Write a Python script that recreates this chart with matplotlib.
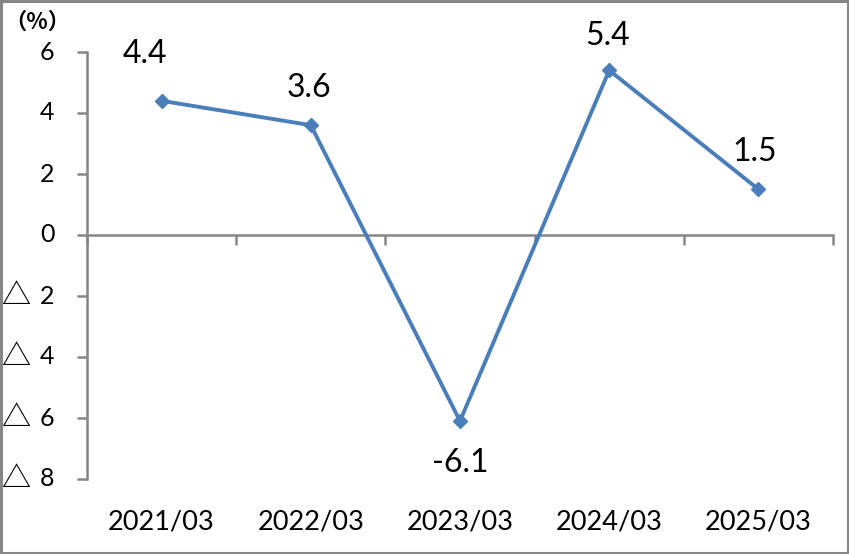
import matplotlib
matplotlib.use("Agg")
import matplotlib.pyplot as plt
from matplotlib.patches import Rectangle
from matplotlib.ticker import FixedLocator

categories = ["2021/03", "2022/03", "2023/03", "2024/03", "2025/03"]
values = [4.4, 3.6, -6.1, 5.4, 1.5]
yticks = [6, 4, 2, 0, -2, -4, -6, -8]
ytick_numbers = ["6", "4", "2", "0", "2", "4", "6", "8"]
ytick_marks = ["", "", "", "", "△", "△", "△", "△"]
label_offsets = [(-12, 34), (-1, 27), (0, -30), (-1, 25), (-3, 27)]

FONT = ["Lato", "Noto Sans CJK SC", "DejaVu Sans"]
plt.rcParams["font.family"] = FONT

W, H = 849, 554
fig = plt.figure(figsize=(W / 100, H / 100), dpi=100)
ax = fig.add_axes([87 / W, (H - 479) / H, (833 - 87) / W, (479 - 52) / H])

gray = "#868686"
blue = "#4A7EBB"
x = list(range(1, len(categories) + 1))
ax.plot(x, values, color=blue, lw=2.8, marker="D", ms=7.5, mfc=blue, mec=blue,
        zorder=5, clip_on=False)

for xi, v, (dx, dy) in zip(x, values, label_offsets):
    ax.annotate(f"{v:.1f}", (xi, v), xytext=(dx, dy), textcoords="offset points",
                ha="center", va="center", fontsize=23, color="black", zorder=6)

ax.set_xlim(0.5, len(categories) + 0.5)
ax.set_ylim(-8, 6)
ax.set_yticks(yticks)
ax.set_yticklabels([])
ax.tick_params(axis="y", direction="out", length=7, width=1.8, color=gray)

for yv, num, mark in zip(yticks, ytick_numbers, ytick_marks):
    ax.annotate(num, (0, yv), xycoords=("axes fraction", "data"), xytext=(-23.5, 0),
                textcoords="offset points", ha="right", va="center", fontsize=18)
    if mark:
        ax.annotate(mark, (0, yv), xycoords=("axes fraction", "data"), xytext=(-62, 0),
                    textcoords="offset points", ha="left", va="center", fontsize=21,
                    family=["Noto Sans CJK SC", "DejaVu Sans"])

ax.xaxis.set_major_locator(FixedLocator([i + 0.5 for i in range(0, len(categories) + 1)]))
ax.set_xticklabels([])
ax.tick_params(axis="x", direction="out", length=7, width=1.8, color=gray)

for s in ["top", "right"]:
    ax.spines[s].set_visible(False)
ax.spines["left"].set_color(gray)
ax.spines["left"].set_linewidth(1.8)
ax.spines["bottom"].set_position(("data", 0))
ax.spines["bottom"].set_color(gray)
ax.spines["bottom"].set_linewidth(1.8)

for xi, c in zip(x, categories):
    ax.annotate(c, (xi, 0), xycoords=("data", "axes fraction"), xytext=(0, -31),
                textcoords="offset points", ha="center", va="center", fontsize=19.5)

fig.text(37 / W, 1 - 22 / H, "（%）", fontsize=16, fontweight="bold",
         family=["Noto Sans CJK SC", "DejaVu Sans"], ha="center", va="center")

fig.patches.append(Rectangle((0.0015, 0.002), 0.997, 0.996, transform=fig.transFigure,
                             fill=False, edgecolor=gray, lw=2.2))

fig.savefig("out.png", dpi=100)
